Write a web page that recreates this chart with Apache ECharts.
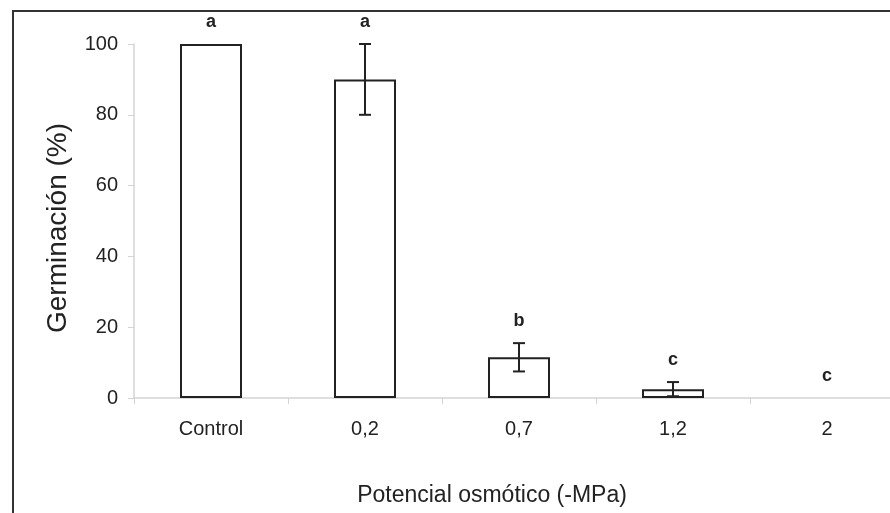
<!DOCTYPE html>
<html>
<head>
<meta charset="utf-8">
<script src="https://cdn.jsdelivr.net/npm/echarts@6/dist/echarts.min.js"></script>
<style>
  html, body { margin: 0; background: #fff; }
  #chart { width: 890px; height: 513px; }
</style>
</head>
<body>
<div id="chart"></div>
<script>
// data
const categories = ['Control', '0,2', '0,7', '1,2', '2'];
const germination = [100, 90, 11.5, 2.5, 0];
const errors = [0, 10, 4, 2, 0];
const letters = ['a', 'a', 'b', 'c', 'c'];

const fontFamily = '"Liberation Sans", Arial, sans-serif';
const ink = '#222';
const faint = '#d4d4d4';

const chart = echarts.init(document.getElementById('chart'));

chart.setOption({
  backgroundColor: '#fff',
  animation: false,
  grid: { left: 134, top: 44, bottom: 115, right: -14, outerBoundsMode: 'none' },
  xAxis: {
    type: 'category',
    data: categories,
    name: 'Potencial osmótico (-MPa)',
    nameLocation: 'middle',
    nameGap: 86,
    // the title sits left of the axis midpoint in the scan
    nameTextStyle: { fontFamily, fontSize: 23, color: ink, padding: [0, 54, 0, 0] },
    axisLine: { lineStyle: { color: faint, width: 1.5 } },
    axisTick: { show: true, length: 6, lineStyle: { color: faint } },
    axisLabel: { fontFamily, fontSize: 20, color: ink, margin: 21 },
    splitLine: { show: false },
  },
  yAxis: {
    type: 'value',
    min: 0,
    max: 100,
    interval: 20,
    name: 'Germinación (%)',
    nameLocation: 'middle',
    nameGap: 62,
    nameTextStyle: { fontFamily, fontSize: 28, color: ink, padding: [0, 14, 0, 0] },
    axisLine: { show: true, lineStyle: { color: faint, width: 1.5 } },
    axisTick: { show: true, length: 6, lineStyle: { color: faint } },
    axisLabel: { fontFamily, fontSize: 20, color: ink, margin: 16 },
    splitLine: { show: false },
  },
  series: [
    {
      type: 'bar',
      // a zero bar leaves no outline in the original
      data: germination.map((v) => (v === 0 ? { value: v, itemStyle: { borderWidth: 0 } } : v)),
      barWidth: 62,
      itemStyle: { color: '#fff', borderColor: ink, borderWidth: 2 },
    },
    {
      type: 'custom',
      clip: false,
      z: 5,
      data: categories.map((c, i) => [i, germination[i], errors[i]]),
      renderItem: (params, api) => {
        const i = api.value(0);
        const mean = api.value(1);
        const err = api.value(2);
        const top = api.coord([i, mean + err]);
        const bot = api.coord([i, Math.max(mean - err, 0)]);
        const cap = 6;
        const lineStyle = { stroke: ink, lineWidth: 2 };
        const children = [];
        if (err > 0) {
          children.push(
            { type: 'line', shape: { x1: top[0], y1: top[1], x2: bot[0], y2: bot[1] }, style: lineStyle },
            { type: 'line', shape: { x1: top[0] - cap, y1: top[1], x2: top[0] + cap, y2: top[1] }, style: lineStyle },
            { type: 'line', shape: { x1: bot[0] - cap, y1: bot[1], x2: bot[0] + cap, y2: bot[1] }, style: lineStyle }
          );
        }
        children.push({
          type: 'text',
          style: {
            text: letters[params.dataIndex],
            x: top[0],
            y: top[1] - 22,
            fill: ink,
            fontFamily,
            fontSize: 18,
            fontWeight: 'bold',
            align: 'center',
            verticalAlign: 'middle',
          },
        });
        return { type: 'group', children };
      },
    },
  ],
  graphic: [
    {
      type: 'polyline',
      shape: { points: [[13, 513], [13, 11], [890, 11]] },
      style: { stroke: '#333', lineWidth: 2, fill: null },
      z: 100,
    },
  ],
});
</script>
</body>
</html>
